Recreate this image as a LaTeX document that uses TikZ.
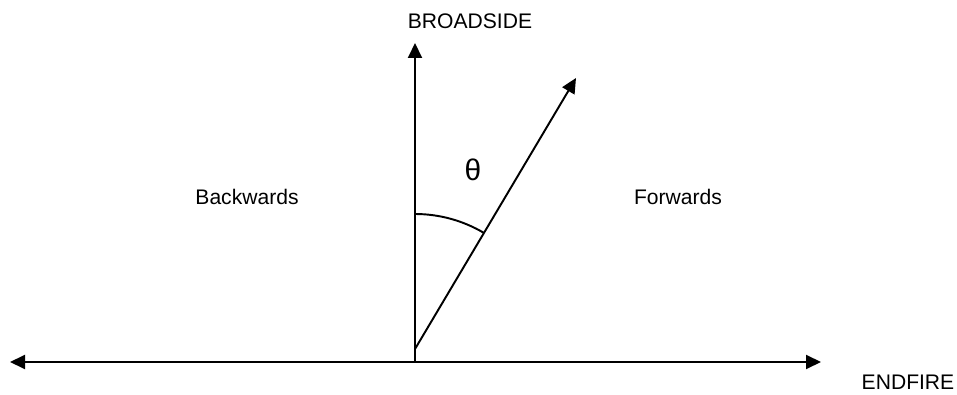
\documentclass[tikz,border=0pt]{standalone}
\usepackage{fontspec}
\setmainfont{Liberation Sans}
\usetikzlibrary{arrows.meta, positioning, calc}

\begin{document}
\begin{tikzpicture}[
    font=\fontsize{12}{14}\selectfont,
    axis/.style={line width=1.1pt, -{Triangle[length=3mm, width=2.8mm]}},
    label/.style={inner sep=0pt, anchor=center},
  ]
  \useasboundingbox (0,0) rectangle (19.14,7.88);

  \coordinate (origin) at (8.30,0.64);
  \coordinate (west)   at (0.20,0.64);
  \coordinate (east)   at (16.42,0.64);
  \coordinate (top)    at (8.30,7.02);
  \coordinate (foot)   at (8.30,0.90);
  \coordinate (tip)    at (11.52,6.32);

  \node[label] (broadside) at (9.40,7.46)  {BROADSIDE};
  \node[label] (endfire)   at (18.16,0.24) {ENDFIRE};
  \node[label] (backwards) at (4.94,3.94)  {Backwards};
  \node[label] (forwards)  at (13.56,3.94) {Forwards};
  \node[label, font=\fontsize{17}{20}\selectfont] (theta) at (9.46,4.48) {θ};

  \draw[axis] (origin) -- (west);
  \draw[axis] (origin) -- (east);
  \draw[axis] (origin) -- (top);
  \draw[axis] (foot) -- (tip);
  % angle between broadside and the beam
  \draw[line width=1.1pt] ($(foot)+(0,2.7)$) arc[start angle=90, end angle=59.3, radius=2.7];
\end{tikzpicture}
\end{document}
